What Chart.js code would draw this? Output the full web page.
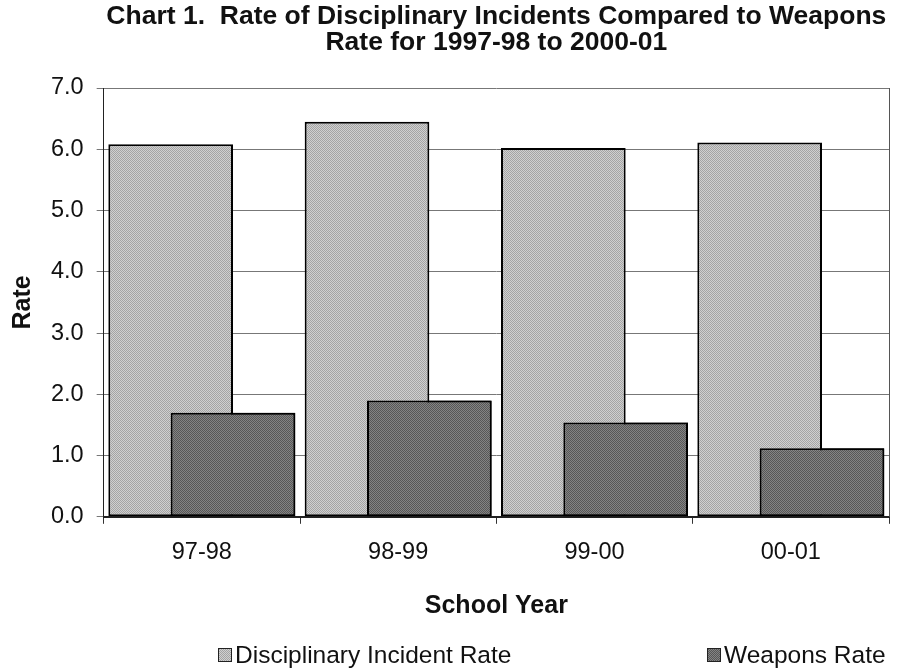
<!DOCTYPE html>
<html>
<head>
<meta charset="utf-8">
<title>Chart 1</title>
<script src="https://cdn.jsdelivr.net/npm/chart.js@4.4.1/dist/chart.umd.min.js"></script>
<style>
  html, body { margin: 0; padding: 0; background: #fff; }
  #wrap { width: 899px; height: 671px; position: relative; }
  .legend { position: absolute; top: 641px; display: flex; align-items: center;
            font-family: 'Liberation Sans', Arial, sans-serif; font-size: 24.5px; color: #111; white-space: nowrap; }
  .legend i { display: inline-block; width: 12px; height: 12px; border: 1px solid #222; margin-right: 3px; }
</style>
</head>
<body>
<div id="wrap">
  <canvas id="chart"></canvas>
  <div class="legend" id="leg0" style="left:218px"><i></i><span></span></div>
  <div class="legend" id="leg1" style="left:707px"><i></i><span></span></div>
</div>
<script>
// datos
const years = ['97-98', '98-99', '99-00', '00-01'];
const disciplinaryRate = [6.08, 6.45, 6.02, 6.11];
const weaponsRate = [1.70, 1.90, 1.54, 1.12];
const seriesNames = ['Disciplinary Incident Rate', 'Weapons Rate'];
const yMin = 0;
const yMax = 7;
const yStep = 1;

const titleLines = ['Chart 1.  Rate of Disciplinary Incidents Compared to Weapons', 'Rate for 1997-98 to 2000-01'];

// textura punteada tipo escaneo (patrón fijo 2x2)
function dither(a, b) {
  const p = document.createElement('canvas');
  p.width = 2; p.height = 2;
  const g = p.getContext('2d');
  g.fillStyle = a; g.fillRect(0, 0, 2, 2);
  g.fillStyle = b; g.fillRect(0, 0, 1, 1); g.fillRect(1, 1, 1, 1);
  return p;
}
const lightTex = dither('#d0d0d0', '#a4a4a4');
const darkTex = dither('#848484', '#575757');

const ctx = document.getElementById('chart').getContext('2d');
const lightFill = ctx.createPattern(lightTex, 'repeat');
const darkFill = ctx.createPattern(darkTex, 'repeat');

// borde derecho del área de trazado
const frame = {
  id: 'frame',
  beforeDatasetsDraw(chart) {
    const a = chart.chartArea;
    const c = chart.ctx;
    c.save();
    c.strokeStyle = '#555';
    c.lineWidth = 1;
    c.beginPath();
    c.moveTo(a.right + 0.5, a.top);
    c.lineTo(a.right + 0.5, a.bottom);
    c.stroke();
    c.restore();
  }
};

// la serie de armas va encima de la otra, como en Excel
const weaponsOnTop = {
  id: 'weaponsOnTop',
  afterDatasetsDraw(chart) {
    chart.ctx.save();
    chart.getDatasetMeta(1).controller.draw();
    chart.ctx.restore();
  }
};

new Chart(ctx, {
  type: 'bar',
  data: {
    labels: years,
    datasets: [
      {
        label: seriesNames[0],
        data: disciplinaryRate,
        backgroundColor: lightFill,
        borderColor: '#000',
        borderWidth: 2,
        borderSkipped: false
      },
      {
        label: seriesNames[1],
        data: weaponsRate,
        backgroundColor: darkFill,
        borderColor: '#000',
        borderWidth: 2,
        borderSkipped: false
      }
    ]
  },
  options: {
    responsive: true,
    maintainAspectRatio: false,
    animation: false,
    datasets: {
      bar: { categoryPercentage: 0.635, barPercentage: 2.0 }
    },
    layout: { padding: { left: 8, right: 10, top: 2, bottom: 50 } },
    scales: {
      x: {
        grid: { display: true, drawOnChartArea: false, offset: true, color: '#333', tickLength: 7 },
        border: { color: '#222', width: 2 },
        ticks: { color: '#111', font: { family: 'Liberation Sans', size: 23.5 }, padding: 15 },
        title: { display: true, text: 'School Year', color: '#111', font: { family: 'Liberation Sans', size: 25, weight: 'bold' }, padding: { top: 9, bottom: 0 } }
      },
      y: {
        min: yMin,
        max: yMax,
        grid: { color: '#777', tickLength: 7 },
        border: { color: '#222', width: 1 },
        ticks: { stepSize: yStep, color: '#111', font: { family: 'Liberation Sans', size: 23.5 }, padding: 13, callback: v => v.toFixed(1) },
        title: { display: true, text: 'Rate', color: '#111', font: { family: 'Liberation Sans', size: 25, weight: 'bold' }, padding: { top: 0, bottom: 0 } }
      }
    },
    plugins: {
      title: {
        display: true,
        fullSize: false,
        text: titleLines,
        color: '#111',
        font: { family: 'Liberation Sans', size: 26.5, weight: 'bold', lineHeight: 1.0 },
        padding: { top: 1, bottom: 32 }
      },
      legend: { display: false },
      tooltip: { enabled: false }
    }
  },
  plugins: [frame, weaponsOnTop]
});

// leyenda
[lightTex, darkTex].forEach((tex, i) => {
  const el = document.getElementById('leg' + i);
  el.querySelector('i').style.background = 'url(' + tex.toDataURL() + ')';
  el.querySelector('span').textContent = seriesNames[i];
});
</script>
</body>
</html>
